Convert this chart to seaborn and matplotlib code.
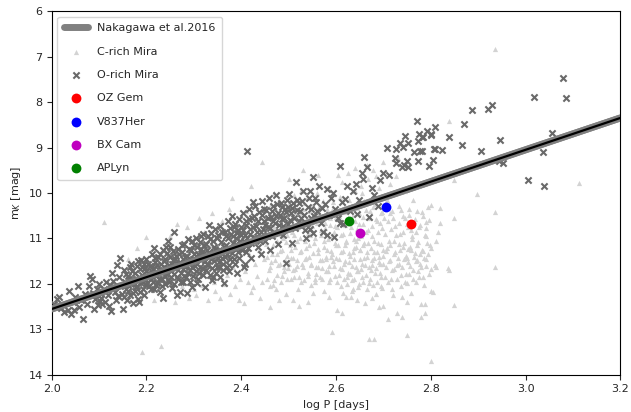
import matplotlib
matplotlib.use("Agg")
import matplotlib.pyplot as plt
import seaborn as sns

# ---------------- data ----------------
# O-rich Miras (log P, m_K) -- scattered members
o_logp_a = [
    2.005, 2.012, 2.015, 2.020, 2.026, 2.034, 2.040, 2.036, 2.044, 2.050, 2.055, 2.058, 2.062, 2.066, 2.070,
    2.075, 2.078, 2.080, 2.084, 2.088, 2.092, 2.095, 2.098, 2.100, 2.102, 2.105, 2.107, 2.104, 2.090, 2.048,
    2.110, 2.112, 2.115, 2.118, 2.120, 2.124, 2.127, 2.130, 2.133, 2.136, 2.137, 2.139, 2.142, 2.145, 2.148,
    2.150, 2.152, 2.155, 2.157, 2.160, 2.162, 2.165, 2.167, 2.170, 2.172, 2.175, 2.177, 2.180, 2.182, 2.184,
    2.186, 2.188, 2.190, 2.192, 2.194, 2.196, 2.198, 2.199, 2.145, 2.125, 2.158, 2.171, 2.183, 2.191, 2.168,
    2.200, 2.203, 2.205, 2.207, 2.210, 2.212, 2.214, 2.216, 2.218, 2.220, 2.222, 2.224, 2.226, 2.228, 2.230,
    2.232, 2.234, 2.236, 2.238, 2.240, 2.242, 2.244, 2.246, 2.248, 2.250, 2.252, 2.254, 2.256, 2.258, 2.260,
    2.262, 2.264, 2.266, 2.268, 2.270, 2.272, 2.274, 2.276, 2.278, 2.280, 2.282, 2.284, 2.286, 2.288, 2.290,
    2.292, 2.294, 2.296, 2.298, 2.300, 2.215, 2.245, 2.235, 2.265, 2.285,
    2.302, 2.304, 2.306, 2.308, 2.310, 2.312, 2.314, 2.316, 2.318, 2.320, 2.322, 2.323, 2.325, 2.327, 2.329,
    2.331, 2.333, 2.335, 2.337, 2.338, 2.340, 2.342, 2.344, 2.346, 2.348, 2.350, 2.352, 2.354, 2.356, 2.358,
    2.360, 2.362, 2.363, 2.365, 2.367, 2.369, 2.371, 2.373, 2.375, 2.377, 2.379, 2.381, 2.383, 2.385, 2.387,
    2.389, 2.390, 2.392, 2.394, 2.396, 2.398, 2.400, 2.332, 2.355, 2.374,
    2.402, 2.404, 2.405, 2.407, 2.408, 2.410, 2.412, 2.414, 2.416, 2.418, 2.420, 2.423, 2.426, 2.429, 2.432,
    2.435, 2.438, 2.441, 2.444, 2.447, 2.450, 2.453, 2.456, 2.459, 2.462, 2.465, 2.468, 2.471, 2.474, 2.477,
    2.480, 2.483, 2.486, 2.489, 2.492, 2.494, 2.496, 2.498, 2.500, 2.442, 2.460, 2.425, 2.478,
    2.505, 2.507, 2.510, 2.514, 2.518, 2.522, 2.526, 2.530, 2.534, 2.537, 2.540, 2.545, 2.545, 2.548, 2.551,
    2.555, 2.560, 2.564, 2.568, 2.573, 2.576, 2.580, 2.580, 2.585, 2.590, 2.594, 2.596, 2.598, 2.515, 2.552,
    2.605, 2.608, 2.608, 2.612, 2.615, 2.619, 2.623, 2.630, 2.635, 2.642, 2.644, 2.648, 2.655, 2.657, 2.659,
    2.666, 2.670, 2.675, 2.680, 2.689, 2.692, 2.700, 2.708, 2.712,
    2.725, 2.727, 2.727, 2.735, 2.742, 2.744, 2.746, 2.750, 2.752, 2.740, 2.752, 2.765, 2.771, 2.773, 2.773,
    2.775, 2.778, 2.781, 2.781, 2.784, 2.792, 2.797, 2.800, 2.800, 2.805, 2.807, 2.809, 2.809, 2.824, 2.839,
    2.866, 2.870, 2.887, 2.906, 2.921, 2.930, 2.944, 2.946, 2.953, 3.006, 3.018, 3.037, 3.040, 3.056, 3.080,
    3.086,
]
o_mk_a = [
    12.45, 12.32, 12.29, 12.52, 12.61, 12.57, 12.66, 12.15, 12.40, 12.28, 12.04, 12.50, 12.36, 12.76, 12.22,
    12.44, 12.04, 11.83, 11.88, 12.20, 12.34, 12.12, 12.46, 12.00, 12.38, 12.30, 12.45, 12.22, 12.55, 12.58,
    12.10, 12.40, 11.95, 12.25, 12.48, 12.02, 11.76, 11.93, 12.18, 12.35, 11.58, 12.26, 11.85, 12.05, 12.22,
    12.55, 11.70, 11.95, 12.10, 11.82, 12.15, 11.63, 12.00, 11.88, 12.20, 11.75, 12.06, 11.92, 12.32, 12.40,
    11.68, 11.98, 11.80, 12.12, 11.55, 11.90, 12.02, 11.72, 11.42, 12.60, 12.35, 12.42, 11.50, 11.62, 11.55,
    11.45, 11.75, 12.05, 11.60, 11.90, 11.35, 11.68, 12.10, 11.52, 11.82, 11.98, 11.40, 11.70, 12.18, 11.55,
    11.88, 11.25, 11.62, 12.00, 11.45, 11.78, 11.32, 11.92, 11.58, 11.18, 11.72, 12.08, 11.48, 10.86, 11.65,
    11.38, 11.85, 11.22, 11.55, 12.18, 11.75, 11.30, 11.95, 11.45, 11.12, 11.62, 11.85, 11.38, 11.02, 11.52,
    11.70, 11.25, 12.07, 11.45, 11.15, 11.20, 11.05, 12.30, 12.25, 12.20,
    11.60, 10.98, 11.98, 11.35, 11.75, 11.08, 11.48, 11.22, 11.65, 10.90, 11.40, 12.07, 11.12, 11.55, 10.95,
    11.30, 11.80, 11.02, 11.45, 11.91, 11.85, 11.18, 10.80, 11.38, 11.62, 10.92, 11.25, 11.52, 10.72, 11.08,
    11.42, 11.70, 11.98, 10.85, 11.15, 11.35, 10.62, 11.00, 11.58, 10.78, 11.22, 10.50, 10.95, 11.45, 10.68,
    11.12, 11.76, 10.88, 11.30, 10.58, 11.05, 10.75, 10.70, 11.85, 11.72,
    11.25, 10.45, 11.63, 10.92, 11.55, 10.62, 9.08, 11.10, 10.35, 10.80, 11.42, 10.55, 10.98, 10.28, 10.72,
    11.18, 10.42, 10.85, 10.18, 10.62, 11.05, 10.38, 10.75, 10.12, 10.52, 10.95, 10.28, 10.65, 10.05, 10.45,
    10.85, 10.22, 10.58, 10.92, 10.35, 11.54, 10.15, 10.68, 10.02, 11.35, 11.25, 10.20, 11.12,
    10.45, 11.10, 10.22, 10.78, 10.37, 10.22, 10.55, 9.95, 10.82, 10.99, 10.30, 9.96, 10.79, 10.55, 10.88,
    10.12, 10.40, 9.85, 10.65, 10.86, 10.25, 9.91, 10.92, 10.48, 10.10, 10.00, 10.97, 10.35, 9.75, 9.65,
    10.55, 9.41, 10.66, 10.20, 10.68, 10.13, 9.85, 10.40, 9.95, 9.80, 10.46, 10.15, 9.55, 9.69, 9.21,
    9.43, 10.53, 9.90, 10.05, 10.29, 9.72, 9.56, 9.01, 9.60,
    9.23, 9.34, 9.03, 8.90, 8.99, 9.38, 8.75, 9.30, 9.43, 9.43, 8.90, 9.10, 8.42, 8.86, 9.30,
    8.70, 9.08, 8.77, 9.08, 8.77, 8.64, 9.41, 8.70, 8.72, 9.27, 9.03, 8.55, 9.03, 9.06, 8.77,
    8.95, 8.48, 8.18, 9.08, 8.15, 8.07, 9.30, 8.84, 9.34, 9.71, 7.89, 9.10, 9.85, 8.68, 7.47,
    7.91,
]
# O-rich Miras -- dense core of the sequence
o_logp_b = [
    2.152, 2.156, 2.161, 2.163, 2.166, 2.169, 2.173, 2.176, 2.179, 2.181, 2.185, 2.187, 2.189, 2.193, 2.195, 2.197,
    2.201, 2.204, 2.206, 2.209, 2.211, 2.213, 2.217, 2.219, 2.221, 2.223, 2.227, 2.229, 2.231, 2.233, 2.237, 2.239,
    2.241, 2.243, 2.247, 2.249, 2.251, 2.253, 2.255, 2.257, 2.259, 2.261, 2.263, 2.267, 2.269, 2.271, 2.273, 2.275,
    2.277, 2.279, 2.281, 2.283, 2.287, 2.289, 2.291, 2.293, 2.295, 2.297, 2.299,
    2.301, 2.303, 2.305, 2.307, 2.309, 2.311, 2.313, 2.315, 2.317, 2.319, 2.321, 2.324, 2.326, 2.328, 2.330, 2.334,
    2.336, 2.339, 2.341, 2.343, 2.345, 2.347, 2.349, 2.351, 2.353, 2.357, 2.359, 2.361, 2.364, 2.366, 2.368, 2.370,
    2.372, 2.376, 2.378, 2.380, 2.382, 2.384, 2.386, 2.388, 2.391, 2.393, 2.395, 2.397, 2.399,
    2.403, 2.406, 2.409, 2.411, 2.413, 2.415, 2.417, 2.419, 2.421, 2.424, 2.427, 2.430, 2.433, 2.436, 2.439, 2.443,
    2.445, 2.448, 2.451, 2.454, 2.457, 2.461, 2.464, 2.467, 2.470, 2.473, 2.476, 2.479, 2.482, 2.485, 2.488, 2.491,
    2.495, 2.499, 2.503, 2.508, 2.512, 2.517, 2.521, 2.525, 2.529, 2.533, 2.538, 2.542, 2.547, 2.553, 2.558, 2.563,
    2.570,
]
o_mk_b = [
    12.28, 11.78, 12.02, 11.90, 12.25, 11.72, 11.98, 12.15, 11.60, 12.05, 11.85, 12.18, 11.48, 11.95, 12.25, 11.65,
    11.98, 11.55, 11.85, 12.12, 11.62, 11.95, 11.42, 11.75, 12.02, 11.58, 11.88, 11.35, 11.72, 12.05, 11.50, 11.82,
    11.18, 11.65, 11.95, 11.40, 11.85, 11.55, 11.28, 11.78, 12.00, 11.45, 11.62, 11.88, 11.35, 11.52, 11.95, 11.15,
    11.68, 11.82, 11.40, 11.58, 11.75, 11.22, 11.95, 11.48, 11.62, 11.05, 11.82,
    11.35, 11.52, 11.72, 11.18, 11.90, 11.42, 11.62, 10.95, 11.30, 11.80, 11.15, 11.50, 11.70, 11.25, 11.58, 11.35,
    10.88, 11.65, 11.05, 11.50, 11.22, 11.75, 11.00, 11.42, 11.62, 11.28, 10.85, 11.55, 11.18, 11.40, 10.95, 11.62,
    11.25, 11.45, 10.90, 11.32, 11.10, 10.75, 11.55, 10.98, 11.20, 10.82, 11.42, 11.15, 10.92,
    10.82, 11.05, 11.30, 10.70, 10.98, 11.20, 10.58, 10.90, 11.10, 10.75, 10.50, 11.00, 10.85, 10.62, 11.05, 10.48,
    10.80, 10.35, 10.70, 10.92, 10.55, 10.78, 10.40, 10.62, 10.88, 10.50, 10.25, 10.70, 10.48, 10.30, 10.72, 10.55,
    10.42, 10.30, 10.60, 10.32, 10.55, 10.15, 10.62, 10.40, 10.18, 10.48, 10.65, 10.12, 10.35, 10.50, 10.20, 10.58,
    10.32,
]

# C-rich Miras (log P, m_K) -- scattered members
c_logp_a = [
    2.110, 2.200, 2.190, 2.230, 2.160, 2.215, 2.245, 2.260, 2.275, 2.285, 2.295, 2.250, 2.270, 2.230, 2.290,
    2.180, 2.300, 2.265,
    2.302, 2.305, 2.310, 2.315, 2.318, 2.322, 2.326, 2.330, 2.334, 2.338, 2.342, 2.345, 2.348, 2.352, 2.356,
    2.360, 2.364, 2.366, 2.370, 2.374, 2.377, 2.380, 2.383, 2.386, 2.390, 2.393, 2.396, 2.398, 2.400, 2.403,
    2.405, 2.408, 2.411, 2.414, 2.417, 2.420, 2.423, 2.425, 2.428, 2.431, 2.434, 2.437, 2.440, 2.442, 2.444,
    2.444, 2.447, 2.449, 2.420, 2.380,
    2.452, 2.455, 2.458, 2.460, 2.462, 2.465, 2.467, 2.470, 2.472, 2.473, 2.475, 2.478, 2.480, 2.482, 2.485,
    2.487, 2.490, 2.492, 2.494, 2.496, 2.498, 2.500, 2.502, 2.504, 2.506, 2.508, 2.510, 2.512, 2.514, 2.516,
    2.518, 2.520, 2.522, 2.522, 2.524, 2.526, 2.528, 2.530, 2.532, 2.534, 2.536, 2.538, 2.540, 2.542, 2.544,
    2.546, 2.548, 2.550, 2.551, 2.553, 2.555, 2.557, 2.559, 2.561, 2.562, 2.564, 2.566, 2.568, 2.570, 2.572,
    2.574, 2.576, 2.578, 2.580, 2.582, 2.584, 2.586, 2.588, 2.590, 2.592, 2.592, 2.594, 2.596, 2.598, 2.600,
    2.460, 2.480, 2.510, 2.540, 2.575, 2.500, 2.530, 2.470, 2.555, 2.585,
    2.602, 2.604, 2.606, 2.608, 2.610, 2.613, 2.613, 2.615, 2.617, 2.619, 2.621, 2.621, 2.623, 2.625, 2.627,
    2.629, 2.631, 2.632, 2.634, 2.636, 2.638, 2.640, 2.640, 2.642, 2.644, 2.646, 2.646, 2.648, 2.650, 2.652,
    2.654, 2.656, 2.658, 2.660, 2.661, 2.662, 2.664, 2.666, 2.668, 2.670, 2.670, 2.672, 2.674, 2.676, 2.678,
    2.680, 2.680, 2.682, 2.684, 2.686, 2.688, 2.690, 2.690, 2.692, 2.694, 2.696, 2.698, 2.700, 2.700, 2.700,
    2.605, 2.625, 2.645, 2.655, 2.665, 2.635, 2.685, 2.695, 2.675, 2.615,
    2.702, 2.705, 2.708, 2.710, 2.712, 2.714, 2.716, 2.718, 2.720, 2.722, 2.724, 2.726, 2.728, 2.729, 2.730,
    2.732, 2.734, 2.736, 2.738, 2.739, 2.739, 2.741, 2.743, 2.745, 2.747, 2.749, 2.750, 2.750, 2.750, 2.752,
    2.754, 2.756, 2.758, 2.759, 2.761, 2.763, 2.765, 2.767, 2.769, 2.771, 2.773, 2.775, 2.777, 2.780, 2.780,
    2.780, 2.782, 2.784, 2.786, 2.788, 2.788, 2.790, 2.790, 2.792, 2.795, 2.800, 2.800, 2.800, 2.800, 2.800,
    2.805, 2.809, 2.810, 2.815, 2.820, 2.820, 2.812,
    2.839, 2.839, 2.848, 2.848, 2.848, 2.836, 2.898, 2.936, 2.936, 2.936, 3.113,
]
c_mk_a = [
    10.64, 10.97, 13.50, 13.37, 11.45, 12.35, 11.95, 12.40, 12.05, 10.75, 11.60, 10.95, 11.25, 11.85, 12.30,
    11.20, 12.10, 10.68,
    11.85, 12.25, 10.55, 11.40, 12.02, 10.85, 11.70, 12.35, 11.15, 10.45, 11.95, 12.15, 10.95, 11.58, 12.30,
    10.62, 11.30, 12.00, 11.80, 10.35, 12.22, 11.05, 11.62, 12.05, 10.82, 11.40, 12.35, 11.88, 10.50, 11.15,
    12.42, 11.72, 10.40, 11.95, 11.35, 12.18, 10.95, 12.07, 11.55, 10.60, 11.82, 11.25, 12.30, 10.88, 11.96,
    9.32, 11.45, 10.30, 9.85, 10.10,
    11.12, 10.55, 11.70, 12.05, 10.25, 11.35, 10.82, 11.92, 10.48, 12.11, 11.05, 11.58, 10.15, 11.28, 10.70,
    11.82, 10.38, 11.48, 12.22, 10.92, 11.65, 10.22, 11.15, 10.58, 11.88, 10.85, 11.42, 10.05, 11.68, 10.42,
    11.05, 12.10, 12.48, 10.68, 11.30, 9.95, 11.55, 10.35, 11.92, 10.78, 11.20, 10.12, 11.75, 10.52, 11.40,
    10.92, 12.02, 10.28, 12.20, 11.10, 10.62, 11.62, 10.00, 11.32, 9.60, 10.45, 11.85, 10.82, 11.48, 10.18,
    11.05, 10.65, 11.72, 10.35, 11.25, 9.88, 11.95, 10.55, 11.40, 13.05, 10.95, 10.20, 11.60, 10.72, 11.15,
    12.50, 12.35, 12.35, 12.40, 12.15, 9.70, 9.50, 10.00, 11.90, 12.28,
    12.57, 10.40, 11.80, 10.08, 11.30, 9.76, 12.64, 10.90, 11.55, 10.28, 12.29, 11.05, 10.60, 11.75, 10.15,
    11.38, 10.75, 12.29, 11.92, 10.48, 11.20, 9.95, 9.45, 11.62, 10.32, 12.07, 11.00, 10.68, 11.45, 9.85,
    11.85, 10.52, 11.15, 10.18, 12.42, 11.58, 10.85, 11.30, 9.70, 11.98, 13.20, 10.40, 11.70, 10.95, 9.50,
    13.20, 11.42, 10.25, 12.22, 10.62, 11.10, 12.50, 9.88, 11.55, 10.45, 11.85, 10.78, 12.48, 9.32, 11.25,
    9.60, 9.55, 12.35, 10.00, 9.38, 12.10, 9.62, 12.05, 12.30, 12.20,
    10.55, 11.62, 10.15, 12.77, 11.05, 9.80, 11.88, 10.40, 12.24, 11.35, 10.72, 9.62, 11.58, 12.64, 9.23,
    10.28, 11.12, 10.90, 12.05, 12.73, 12.29, 10.50, 11.45, 9.95, 11.78, 10.68, 13.12, 12.40, 11.98, 11.22,
    10.35, 11.60, 10.82, 12.20, 11.02, 10.15, 11.40, 10.58, 11.96, 11.15, 9.85, 10.75, 11.55, 12.73, 12.44,
    11.63, 10.42, 11.28, 12.02, 12.64, 12.44, 10.64, 10.95, 11.10, 10.30, 12.15, 13.69, 11.67, 10.26, 11.20,
    12.18, 11.58, 11.05, 10.85, 10.33, 10.66, 11.62,
    8.42, 11.69, 9.71, 10.55, 12.46, 11.65, 10.02, 6.84, 10.42, 11.63, 9.78,
]
# C-rich Miras -- dense core
c_logp_b = [
    2.451, 2.454, 2.457, 2.461, 2.463, 2.466, 2.469, 2.471, 2.474, 2.476, 2.479, 2.481, 2.484, 2.486, 2.488, 2.491,
    2.493, 2.495, 2.497, 2.499,
    2.501, 2.503, 2.505, 2.507, 2.509, 2.511, 2.513, 2.515, 2.517, 2.519, 2.521, 2.523, 2.525, 2.527, 2.529, 2.531,
    2.533, 2.535, 2.537, 2.539, 2.541, 2.543, 2.545, 2.547, 2.549, 2.552, 2.554, 2.556, 2.558, 2.560, 2.563, 2.565,
    2.567, 2.569, 2.571, 2.573, 2.575, 2.577, 2.579, 2.581, 2.583, 2.585, 2.587, 2.589, 2.591, 2.593, 2.595, 2.597,
    2.599,
    2.601, 2.603, 2.605, 2.607, 2.609, 2.611, 2.614, 2.616, 2.618, 2.620, 2.622, 2.624, 2.626, 2.628, 2.630, 2.633,
    2.635, 2.637, 2.639, 2.641, 2.643, 2.645, 2.647, 2.649, 2.651, 2.653, 2.655, 2.657, 2.659, 2.663, 2.665, 2.667,
    2.669, 2.671, 2.673, 2.675, 2.677, 2.679, 2.681, 2.683, 2.685, 2.687, 2.689, 2.691, 2.693, 2.695, 2.697, 2.699,
    2.703, 2.706, 2.709, 2.711, 2.713, 2.715, 2.717, 2.719, 2.721, 2.723, 2.727, 2.731, 2.733, 2.735, 2.737, 2.740,
    2.742, 2.744, 2.746, 2.748, 2.751, 2.753, 2.755, 2.757, 2.760, 2.762, 2.764, 2.766, 2.768, 2.770, 2.772, 2.774,
    2.776, 2.778, 2.781, 2.783, 2.785, 2.787, 2.789, 2.791, 2.794, 2.797, 2.799,
]
c_mk_b = [
    10.62, 11.40, 10.95, 11.62, 10.48, 11.15, 10.75, 11.48, 10.35, 11.80, 10.90, 11.55, 10.58, 11.25, 10.98, 11.72,
    10.45, 11.08, 11.38, 10.62,
    11.55, 10.80, 11.25, 10.38, 11.70, 10.92, 11.18, 10.55, 11.48, 10.75, 11.85, 10.98, 10.45, 11.28, 10.68, 11.62,
    10.22, 11.05, 11.42, 10.58, 10.88, 11.15, 10.40, 11.58, 10.72, 11.32, 10.48, 11.00, 11.78, 10.65, 11.22, 10.30,
    11.48, 10.92, 11.65, 10.55, 11.18, 10.78, 11.40, 10.45, 11.02, 11.60, 10.70, 11.28, 10.38, 11.50, 10.85, 11.10,
    10.52,
    11.42, 10.75, 11.15, 10.50, 11.65, 10.92, 11.28, 10.42, 11.50, 10.70, 11.08, 11.85, 10.55, 11.32, 10.88, 11.60,
    10.35, 11.02, 11.45, 10.62, 11.18, 10.80, 11.72, 10.45, 11.25, 10.95, 11.55, 10.68, 11.10, 10.38, 11.40, 10.82,
    11.62, 10.55, 11.20, 10.72, 11.48, 10.30, 11.05, 11.75, 10.58, 11.30, 10.85, 11.52, 10.65, 11.12, 10.42, 11.38,
    10.90, 11.28, 10.62, 11.50, 10.45, 11.15, 10.80, 11.70, 10.55, 11.05, 10.92, 11.42, 10.65, 11.25, 10.38, 11.62,
    10.85, 11.10, 10.55, 11.38, 10.75, 11.52, 10.48, 11.18, 10.95, 11.70, 10.62, 11.32, 10.85, 11.48, 10.40, 11.08,
    11.85, 10.70, 11.25, 10.50, 11.42, 10.92, 11.60, 10.78, 11.35, 10.60, 11.15,
]
# C-rich Miras -- fainter part of the core
c_logp_c = [
    2.583, 2.588, 2.592, 2.597, 2.603, 2.606, 2.610, 2.612, 2.616, 2.619, 2.624, 2.627, 2.630, 2.633, 2.636, 2.639,
    2.642, 2.644, 2.648, 2.650, 2.653, 2.656, 2.660, 2.663, 2.666, 2.668, 2.672, 2.675, 2.678, 2.681, 2.684, 2.687,
    2.690, 2.693, 2.697, 2.700, 2.704, 2.707, 2.710, 2.714, 2.718, 2.722, 2.725, 2.729, 2.733, 2.737, 2.741, 2.745,
    2.749, 2.754, 2.758, 2.763, 2.768, 2.773, 2.778, 2.783, 2.790, 2.796,
    2.455, 2.462, 2.468, 2.475, 2.483, 2.490, 2.497, 2.504, 2.512, 2.518, 2.526, 2.534, 2.541, 2.548, 2.556, 2.563,
    2.571, 2.578,
]
c_mk_c = [
    11.72, 11.90, 11.35, 11.82, 11.95, 11.45, 12.05, 11.68, 11.88, 11.15, 12.00, 11.52, 11.78, 12.15, 11.30, 11.90,
    11.05, 11.72, 12.00, 11.25, 11.68, 11.95, 11.42, 11.80, 12.12, 11.10, 11.88, 11.58, 12.02, 11.30, 11.65, 11.95,
    11.40, 11.75, 12.08, 11.55, 11.85, 11.20, 11.95, 11.48, 12.10, 11.68, 11.30, 11.88, 11.55, 11.80, 11.18, 11.95,
    11.42, 11.78, 11.25, 11.90, 11.50, 11.72, 11.35, 11.85, 11.45, 11.78,
    11.88, 11.52, 12.02, 11.35, 11.95, 11.62, 11.88, 11.42, 11.85, 11.60, 11.95, 11.45, 11.82, 11.55, 11.95, 11.62,
    11.88, 11.45,
]

# Individual stars
star_names = ["OZ Gem", "V837Her", "BX Cam", "APLyn"]
star_logp = [2.759, 2.706, 2.651, 2.628]
star_mk = [10.69, 10.30, 10.87, 10.61]
star_colors = ["red", "blue", "m", "green"]

# Nakagawa et al. 2016 relation (end points)
pl_logp = [2.0, 3.2]
pl_mk = [12.55, 8.35]

# ---------------- plot ----------------
sns.set_style("ticks")
plt.rcParams["font.family"] = ["DejaVu Sans"]
fig = plt.figure(figsize=(6.31, 4.12), dpi=100)
ax = fig.add_axes([0.082, 0.090, 0.901, 0.883])

sns.lineplot(x=pl_logp, y=pl_mk, ax=ax, color="gray", lw=5, label="Nakagawa et al.2016", zorder=1)
sns.scatterplot(x=c_logp_a + c_logp_b + c_logp_c, y=c_mk_a + c_mk_b + c_mk_c, ax=ax, marker="^",
                color="lightgray", s=14, linewidth=0, label="C-rich Mira", zorder=2)
sns.scatterplot(x=o_logp_a + o_logp_b, y=o_mk_a + o_mk_b, ax=ax, marker="x", color="dimgray",
                s=20, linewidth=1.5, label="O-rich Mira", zorder=3)
sns.lineplot(x=pl_logp, y=pl_mk, ax=ax, color="gray", lw=5, zorder=4, legend=False)
sns.lineplot(x=pl_logp, y=pl_mk, ax=ax, color="black", lw=1.6, zorder=5, legend=False)
for name, xv, yv, col in zip(star_names, star_logp, star_mk, star_colors):
    sns.scatterplot(x=[xv], y=[yv], ax=ax, color=col, s=50, linewidth=0, label=name, zorder=6)

ax.set_xlim(2.0, 3.2)
ax.set_ylim(14, 6)
ax.set_xlabel("log P [days]", fontsize=8)
ax.set_ylabel("m$_K$ [mag]", fontsize=8)
ax.tick_params(labelsize=8, length=3.5, width=0.8, pad=3)
for sp in ax.spines.values():
    sp.set_visible(True)
    sp.set_color("black")
    sp.set_linewidth(0.8)

ax.legend(loc="upper left", fontsize=8, frameon=True, borderpad=0.6, labelspacing=1.2,
          handlelength=2.2)

fig.savefig("out.png", dpi=100)
